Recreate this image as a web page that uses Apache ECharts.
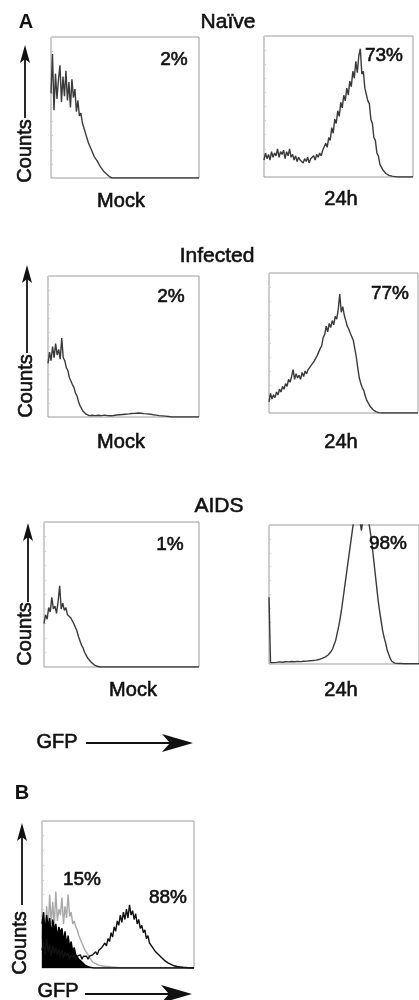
<!DOCTYPE html>
<html>
<head>
<meta charset="utf-8">
<script src="https://cdn.jsdelivr.net/npm/echarts@6/dist/echarts.min.js"></script>
<style>
html,body{margin:0;padding:0;background:#fff;}
#chart{width:419px;height:1000px;}
</style>
</head>
<body>
<div id="chart"></div>
<script>
// GFP channel bins (0..99, % of axis)
const bins = Array.from({length: 100}, (_, i) => i);

// Panel A – Naïve
const naiveMock = [
  60, 88, 48, 74, 56, 70, 80, 54, 72, 58,
  76, 55, 68, 50, 70, 57, 63, 47, 55, 44,
  46, 39, 40, 32, 31, 25, 26, 20, 19, 15,
  15, 12, 11, 8, 8, 5, 5, 3, 2, 1,
  0.5, 0, 0, 0, 0, 0, 0, 0, 0, 0,
  0, 0, 0, 0, 0, 0, 0, 0, 0, 0,
  0, 0, 0, 0, 0, 0, 0, 0, 0, 0,
  0, 0, 0, 0, 0, 0, 0, 0, 0, 0,
  0, 0, 0, 0, 0, 0, 0, 0, 0, 0,
  0, 0, 0, 0, 0, 0, 0, 0, 0, 0
];
const naive24h = [
  12, 17, 13, 16, 12, 18, 14, 17, 15, 20,
  14, 18, 16, 19, 13, 18, 15, 20, 14, 16,
  12, 15, 11, 14, 12, 13, 10, 13, 11, 14,
  10, 13, 12, 15, 12, 16, 14, 17, 15, 19,
  18, 24, 21, 28, 26, 35, 31, 41, 38, 47,
  43, 53, 49, 58, 54, 63, 58, 68, 64, 75,
  70, 82, 74, 86, 91, 73, 75, 63, 64, 54,
  52, 41, 38, 28, 26, 17, 15, 9, 9, 5,
  5, 2.5, 2.5, 1.2, 1.4, 0.6, 0.7, 0.3, 0.2, 0,
  0, 0, 0, 0, 0, 0, 0, 0, 0, 0
];
// Panel A – Infected
const infectedMock = [
  38, 46, 40, 50, 42, 52, 44, 48, 41, 56,
  42, 40, 35, 33, 28, 27, 23, 21, 17, 15,
  11, 8, 6, 4, 3, 2, 1.5, 1, 0.6, 1.2,
  0.8, 1, 0.5, 1.2, 0.7, 1, 0.6, 1.3, 0.8, 1,
  1.4, 0.9, 1.6, 1.1, 1.8, 1.4, 2.2, 1.6, 2.4, 1.8,
  2.6, 2, 3, 2.2, 3.2, 2.5, 3.6, 2.6, 3.4, 2.8,
  3.8, 2.7, 3.3, 2.4, 3, 2.2, 2.8, 2, 2.4, 1.6,
  2, 1.3, 1.6, 1, 1.2, 0.8, 1, 0.6, 0.7, 0.4,
  0.3, 0, 0, 0, 0, 0, 0, 0, 0, 0,
  0, 0, 0, 0, 0, 0, 0, 0, 0, 0
];
const infected24h = [
  8, 14, 10, 13, 11, 15, 13, 17, 15, 19,
  17, 21, 19, 24, 22, 26, 31, 24, 28, 25,
  27, 24, 29, 26, 30, 28, 31, 30, 34, 33,
  37, 36, 41, 40, 46, 48, 54, 56, 62, 58,
  64, 61, 66, 63, 69, 67, 74, 85, 72, 76,
  70, 66, 62, 60, 57, 58, 52, 46, 40, 32,
  25, 21, 18, 16, 12, 9, 7, 5, 4, 2.5,
  1.5, 1, 0.6, 0.3, 0, 0, 0, 0, 0, 0,
  0, 0, 0, 0, 0, 0, 0, 0, 0, 0,
  0, 0, 0, 0, 0, 0, 0, 0, 0, 0
];
// Panel A – AIDS
const aidsMock = [
  30, 36, 33, 41, 38, 48, 40, 42, 37, 45,
  56, 40, 44, 39, 41, 36, 37, 34, 33, 30,
  29, 25, 21, 18, 15, 13, 10, 8, 6, 5,
  3.5, 2.5, 1.5, 1, 0.5, 0, 0, 0, 0, 0,
  0, 0, 0, 0, 0, 0, 0, 0, 0, 0,
  0, 0, 0, 0, 0, 0, 0, 0, 0, 0,
  0, 0, 0, 0, 0, 0, 0, 0, 0, 0,
  0, 0, 0, 0, 0, 0, 0, 0, 0, 0,
  0, 0, 0, 0, 0, 0, 0, 0, 0, 0,
  0, 0, 0, 0, 0, 0, 0, 0, 0, 0
];
const aids24h = [
  48, 1, 1.5, 1, 0.8, 1.2, 1, 1.5, 1, 1.3,
  1, 1.6, 1.2, 1.5, 1.1, 1.8, 1.4, 1.6, 1.3, 1.9,
  1.5, 1.7, 1.4, 2, 1.6, 2.1, 1.8, 2.3, 2, 2.5,
  2.4, 2.8, 2.6, 3.2, 3.5, 4, 4.4, 5, 5.6, 6.5,
  7.5, 9, 11, 14, 17, 22, 27, 33, 40, 48,
  56, 64, 72, 80, 88, 96, 104, 110, 114, 106,
  103, 96, 104, 112, 110, 106, 101, 94, 86, 76,
  66, 56, 46, 38, 31, 24, 19, 15, 10, 7,
  4, 2, 1, 0.6, 0.3, 0.4, 0.3, 0.4, 0.3, 0.2,
  0.3, 0.2, 0.3, 0.2, 0.2, 0.3, 0.2, 0.2, 0.1, 0.2
];
// Panel B
const bControl = [
  30, 38, 24, 36, 28, 34, 22, 33, 26, 30,
  21, 28, 24, 27, 18, 25, 16, 22, 14, 18,
  11, 14, 9, 10, 6, 6, 4, 3, 2, 1.5,
  1, 0.5, 0.3, 0, 0, 0, 0, 0, 0, 0,
  0, 0, 0, 0, 0, 0, 0, 0, 0, 0,
  0, 0, 0, 0, 0, 0, 0, 0, 0, 0,
  0, 0, 0, 0, 0, 0, 0, 0, 0, 0,
  0, 0, 0, 0, 0, 0, 0, 0, 0, 0,
  0, 0, 0, 0, 0, 0, 0, 0, 0, 0,
  0, 0, 0, 0, 0, 0, 0, 0, 0, 0
];
const b15 = [
  20, 38, 15, 42, 25, 50, 30, 45, 28, 52,
  32, 40, 36, 48, 30, 42, 34, 50, 35, 38,
  30, 32, 28, 26, 22, 21, 17, 16, 12, 11,
  9, 7, 6, 4, 4, 3, 2.5, 2, 2.5, 1.5,
  2, 1.2, 1.5, 1, 1.2, 0.8, 1, 0.6, 0.8, 0.4,
  0.3, 0, 0, 0, 0, 0, 0, 0, 0, 0,
  0, 0, 0, 0, 0, 0, 0, 0, 0, 0,
  0, 0, 0, 0, 0, 0, 0, 0, 0, 0,
  0, 0, 0, 0, 0, 0, 0, 0, 0, 0,
  0, 0, 0, 0, 0, 0, 0, 0, 0, 0
];
const b88 = [
  12, 18, 9, 20, 11, 16, 8, 15, 10, 14,
  9, 13, 8, 12, 7, 11, 8, 10, 6, 9,
  7, 9, 6, 8, 7, 9, 6, 8, 7, 8,
  6, 8, 7, 9, 8, 11, 9, 12, 11, 14,
  13, 17, 15, 20, 18, 24, 21, 28, 25, 32,
  29, 36, 31, 38, 33, 40, 34, 43, 36, 39,
  33, 37, 30, 33, 27, 29, 24, 26, 20, 22,
  17, 18, 14, 15, 11, 12, 9, 9, 7, 7,
  5, 5, 3.5, 3, 2.5, 2, 1.5, 2, 1, 1.5,
  0.8, 1, 0.5, 0.6, 0.3, 0, 0, 0, 0, 0
];

// Labels
const groupTitles = ['Naïve', 'Infected', 'AIDS'];
const conditions = ['Mock', '24h'];
const pctA = ['2%', '73%', '2%', '77%', '1%', '98%'];
const pctB = ['15%', '88%'];

const FONT = '"Liberation Sans", Arial, Helvetica, sans-serif';
const INK = '#111';

const grids = [
  {left: 51, top: 37, width: 148, height: 141},
  {left: 264, top: 36, width: 149, height: 141},
  {left: 48, top: 276, width: 151, height: 141},
  {left: 269, top: 273, width: 149, height: 140},
  {left: 44, top: 522, width: 155, height: 145},
  {left: 269, top: 525, width: 152, height: 139},
  {left: 42, top: 821, width: 152, height: 147}
].map(g => Object.assign({show: true, borderColor: '#9c9c9c', borderWidth: 1, backgroundColor: 'transparent', containLabel: false}, g));

const xAxes = grids.map((g, i) => ({
  gridIndex: i, type: 'value', min: 0, max: 99,
  axisLine: {show: false}, axisTick: {show: false}, axisLabel: {show: false}, splitLine: {show: false}
}));
const yAxes = grids.map((g, i) => ({
  gridIndex: i, type: 'value', min: 0, max: 100, interval: 10,
  axisLine: {show: false},
  axisTick: {show: true, inside: true, length: 2, lineStyle: {color: '#cfcfcf'}},
  axisLabel: {show: false}, splitLine: {show: false}
}));

function hist(idx, arr, color, extra) {
  return Object.assign({
    type: 'line', xAxisIndex: idx, yAxisIndex: idx,
    data: arr.map((v, i) => [bins[i], v]),
    showSymbol: false, symbol: 'none', clip: true, silent: true, animation: false,
    lineStyle: {color: color, width: 1.4}
  }, extra || {});
}

const LINE = '#3a3a3a';
const series = [
  hist(0, naiveMock, LINE),
  hist(1, naive24h, LINE),
  hist(2, infectedMock, LINE),
  hist(3, infected24h, LINE),
  hist(4, aidsMock, LINE),
  hist(5, aids24h, LINE),
  hist(6, bControl, '#000', {areaStyle: {color: '#000', opacity: 1}, z: 3}),
  hist(6, b15, '#a8a8a8', {z: 2}),
  hist(6, b88, '#111', {z: 4})
];

function txt(x, y, s, size, bold, rot) {
  const f = (bold ? 'bold ' : '') + size + 'px ' + FONT;
  const el = {
    type: 'text', x: x, y: y, z: 100,
    style: {text: s, font: f, fill: INK, stroke: INK, lineWidth: bold ? 0 : 0.6,
      align: 'center', verticalAlign: 'middle', textAlign: 'center', textVerticalAlign: 'middle'}
  };
  if (rot) el.rotation = rot;
  return el;
}
function vArrow(x, yTip, yEnd) {
  return [
    {type: 'line', z: 100, shape: {x1: x, y1: yEnd, x2: x, y2: yTip + 12}, style: {stroke: INK, lineWidth: 1.8}},
    {type: 'polygon', z: 100, shape: {points: [[x, yTip], [x - 5, yTip + 18], [x, yTip + 14], [x + 5, yTip + 18]]}, style: {fill: INK}}
  ];
}
function hArrow(x0, xTip, y) {
  return [
    {type: 'line', z: 100, shape: {x1: x0, y1: y, x2: xTip - 20, y2: y}, style: {stroke: INK, lineWidth: 2}},
    {type: 'polygon', z: 100, shape: {points: [[xTip, y], [xTip - 31, y - 9], [xTip - 23, y], [xTip - 31, y + 9]]}, style: {fill: INK}}
  ];
}

const R = Math.PI / 2;
const graphics = [
  txt(26, 22, 'A', 20, true),
  txt(228, 22, groupTitles[0], 21),
  txt(217, 256, groupTitles[1], 21),
  txt(219, 506, groupTitles[2], 21),
  txt(174, 60, pctA[0], 19),
  txt(384, 56, pctA[1], 19),
  txt(171, 297, pctA[2], 19),
  txt(390, 294, pctA[3], 19),
  txt(170, 545, pctA[4], 19),
  txt(388, 544, pctA[5], 19),
  txt(121, 201, conditions[0], 20),
  txt(341, 199, conditions[1], 20),
  txt(121, 442, conditions[0], 20),
  txt(341, 442, conditions[1], 20),
  txt(133, 690, conditions[0], 20),
  txt(341, 690, conditions[1], 20),
  txt(25, 151, 'Counts', 20, false, R),
  txt(26, 386, 'Counts', 20, false, R),
  txt(25, 634, 'Counts', 20, false, R),
  txt(20, 943, 'Counts', 20, false, R),
  txt(57, 742, 'GFP', 20),
  txt(22, 793, 'B', 20, true),
  txt(82, 880, pctB[0], 19),
  txt(168, 898, pctB[1], 19),
  txt(58, 991, 'GFP', 20)
].concat(
  vArrow(25, 45, 118),
  vArrow(27, 265, 353),
  vArrow(28, 523, 602),
  vArrow(22, 823, 905),
  hArrow(86, 193, 743),
  hArrow(85, 192, 994)
);

const chart = echarts.init(document.getElementById('chart'), null, {renderer: 'canvas'});
chart.setOption({
  animation: false,
  backgroundColor: '#fff',
  grid: grids,
  xAxis: xAxes,
  yAxis: yAxes,
  series: series,
  graphic: {elements: graphics}
});
</script>
</body>
</html>
